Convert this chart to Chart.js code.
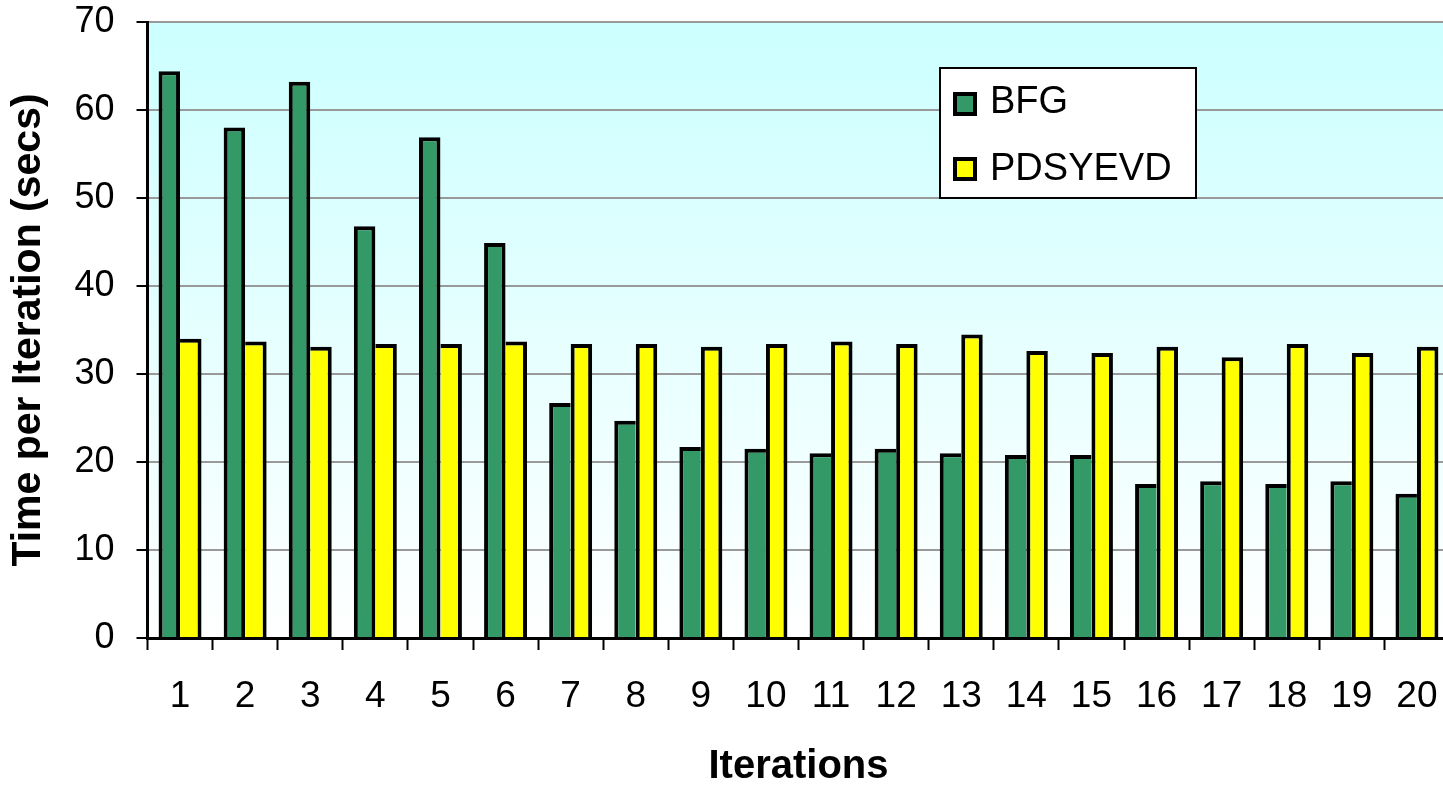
<!DOCTYPE html>
<html>
<head>
<meta charset="utf-8">
<title>Time per Iteration</title>
<script src="https://cdn.jsdelivr.net/npm/chart.js@4/dist/chart.umd.min.js"></script>
<style>
  html, body { margin: 0; padding: 0; background: #fff; overflow: hidden; width: 1443px; height: 787px; }
  canvas { display: block; }
</style>
</head>
<body>
<canvas id="chart" width="1460" height="787"></canvas>
<script>
// Iteration numbers along the x axis
const iterations = ['1','2','3','4','5','6','7','8','9','10','11','12','13','14','15','16','17','18','19','20'];

// Seconds spent per iteration by each eigensolver
const bfgTimes = [64.4, 58.0, 63.2, 46.8, 56.9, 44.9, 26.7, 24.7, 21.7, 21.5,
                  21.0, 21.5, 21.0, 20.8, 20.8, 17.5, 17.8, 17.5, 17.8, 16.4];
const pdsyevdTimes = [34.0, 33.7, 33.1, 33.4, 33.4, 33.7, 33.4, 33.4, 33.1, 33.4,
                      33.7, 33.4, 34.5, 32.6, 32.4, 33.1, 31.9, 33.4, 32.4, 33.1];

// Value axis range
const yMin = 0;
const yMax = 70;
const yStep = 10;

const FONT = '"Liberation Sans", Arial, Helvetica, sans-serif';
Chart.defaults.font.family = FONT;
Chart.defaults.color = '#000';

const BAR_EDGE = 4;

// Light turquoise-to-white fill behind the plot
const plotBackground = {
  id: 'plotBackground',
  beforeDraw(chart) {
    const { ctx, chartArea: a } = chart;
    ctx.save();
    ctx.fillStyle = '#ffffff';
    ctx.fillRect(0, 0, chart.width, chart.height);
    const g = ctx.createLinearGradient(0, a.top, 0, a.bottom);
    g.addColorStop(0, '#ccffff');
    g.addColorStop(1, '#ffffff');
    ctx.fillStyle = g;
    ctx.fillRect(a.left, a.top, a.right - a.left, a.bottom - a.top);
    ctx.restore();
  }
};

// Boxed legend sitting inside the plot area
const boxLegend = {
  id: 'boxLegend',
  afterDraw(chart) {
    const { ctx } = chart;
    const bx = 940, by = 68, bw = 256, bh = 130;
    ctx.save();
    ctx.fillStyle = '#ffffff';
    ctx.fillRect(bx, by, bw, bh);
    ctx.lineWidth = 2;
    ctx.strokeStyle = '#000';
    ctx.strokeRect(bx, by, bw, bh);
    ctx.font = '38px ' + FONT;
    ctx.textBaseline = 'alphabetic';
    ctx.textAlign = 'left';
    chart.data.datasets.forEach((ds, i) => {
      const my = 92 + i * 65;
      ctx.fillStyle = '#000';
      ctx.fillRect(953, my, 24, 24);
      ctx.fillStyle = ds.backgroundColor;
      ctx.fillRect(957, my + 4, 16, 16);
      ctx.fillStyle = '#000';
      ctx.fillText(ds.label, 990, 113 + i * 67);
    });
    ctx.restore();
  }
};

// The taller bar of each pair owns the shared inner edge
function leftBarBorder(ctx) {
  const i = ctx.dataIndex;
  const taller = bfgTimes[i] >= pdsyevdTimes[i];
  return { top: BAR_EDGE, left: BAR_EDGE, right: taller ? BAR_EDGE : 0, bottom: 0 };
}
function rightBarBorder(ctx) {
  const i = ctx.dataIndex;
  const taller = pdsyevdTimes[i] > bfgTimes[i];
  return { top: BAR_EDGE, right: BAR_EDGE, left: taller ? BAR_EDGE : 0, bottom: 0 };
}

new Chart(document.getElementById('chart'), {
  type: 'bar',
  data: {
    labels: iterations,
    datasets: [
      {
        label: 'BFG',
        data: bfgTimes,
        backgroundColor: '#339966',
        borderColor: '#000',
        borderWidth: leftBarBorder,
        borderSkipped: false,
        categoryPercentage: 0.66,
        barPercentage: 1.0
      },
      {
        label: 'PDSYEVD',
        data: pdsyevdTimes,
        backgroundColor: '#ffff00',
        borderColor: '#000',
        borderWidth: rightBarBorder,
        borderSkipped: false,
        categoryPercentage: 0.66,
        barPercentage: 1.0
      }
    ]
  },
  options: {
    responsive: false,
    animation: false,
    events: [],
    layout: { padding: { top: 22, right: 10.5, left: 0, bottom: 0 } },
    plugins: {
      legend: { display: false },
      tooltip: { enabled: false }
    },
    scales: {
      x: {
        grid: {
          offset: true,
          drawOnChartArea: false,
          drawTicks: true,
          tickLength: 12,
          tickColor: '#000',
          tickWidth: 2
        },
        border: { color: '#000', width: 3 },
        ticks: {
          color: '#000',
          font: { size: 37 },
          padding: 25,
          maxRotation: 0,
          autoSkip: false
        },
        title: {
          display: true,
          text: 'Iterations',
          color: '#000',
          font: { size: 40, weight: 'bold', lineHeight: 1 },
          padding: 0
        },
        afterFit(scale) {
          scale.height = 149;
          scale.paddingLeft = 0;
          scale.paddingRight = 0;
        }
      },
      y: {
        min: yMin,
        max: yMax,
        ticks: {
          stepSize: yStep,
          color: '#000',
          font: { size: 36 },
          padding: 22
        },
        grid: {
          color: '#999999',
          lineWidth: 2,
          tickLength: 11,
          tickColor: '#000',
          tickWidth: 2
        },
        border: { color: '#000', width: 3 },
        title: {
          display: true,
          text: 'Time per Iteration (secs)',
          color: '#000',
          font: { size: 41, weight: 'bold' },
          padding: { top: 4, bottom: 0 }
        },
        afterFit(scale) {
          scale.width = 147.5;
          scale.paddingTop = 0;
          scale.paddingBottom = 0;
        }
      }
    }
  },
  plugins: [plotBackground, boxLegend]
});
</script>
</body>
</html>
